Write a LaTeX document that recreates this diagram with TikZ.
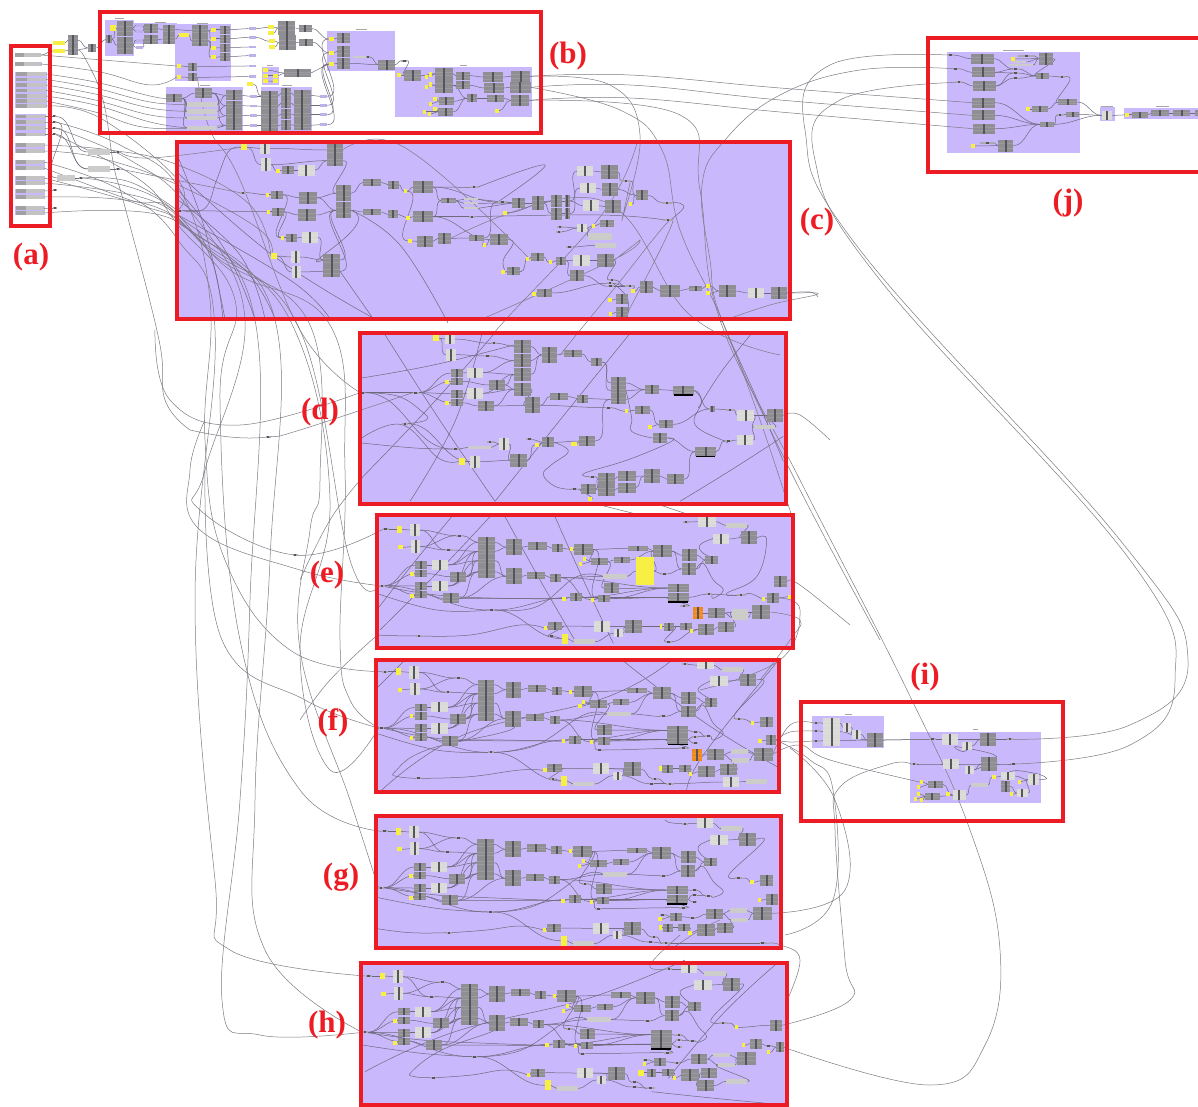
\documentclass[tikz,border=0pt]{standalone}
\usepackage{fontspec}
\setmainfont{Liberation Serif}
\usetikzlibrary{calc}
\definecolor{lav}{HTML}{C9B8FC}
\definecolor{gcol}{HTML}{8E8E93}
\definecolor{gbar}{HTML}{55555B}
\definecolor{lcol}{HTML}{DADAD7}
\definecolor{ycol}{HTML}{F8EF45}
\definecolor{ocol}{HTML}{F08A1D}
\definecolor{rcol}{HTML}{ED1C24}
\definecolor{wcol}{HTML}{6E6A7C}
\definecolor{lwcol}{HTML}{7C7A82}
\pgfdeclarelayer{panels}\pgfdeclarelayer{wires}\pgfdeclarelayer{frames}
\pgfsetlayers{panels,wires,main,frames}
\tikzset{
 compbase/.style={rectangle,inner sep=0pt,outer sep=0pt,draw=none},
 rowlines/.style={path picture={
   \draw[white!12!#1,line width=.25pt] ($(path picture bounding box.north west)!.33!(path picture bounding box.south west)$) -- ($(path picture bounding box.north east)!.33!(path picture bounding box.south east)$);
   \draw[white!12!#1,line width=.25pt] ($(path picture bounding box.north west)!.67!(path picture bounding box.south west)$) -- ($(path picture bounding box.north east)!.67!(path picture bounding box.south east)$);
   \fill[gbar] ([xshift=-1pt]path picture bounding box.north) rectangle ([xshift=1pt]path picture bounding box.south);}},
 gcomp/.style={compbase,fill=gcol,rowlines=gcol},
 lcomp/.style={compbase,fill=lcol,rowlines=lcol},
 ycomp/.style={compbase,fill=ycol},
 ocomp/.style={compbase,fill=ocol,rowlines=ocol},
 pillnode/.style={compbase,fill=gcol!75!white,path picture={\fill[gbar] ([xshift=-1.2pt]path picture bounding box.north) rectangle ([xshift=1.2pt]path picture bounding box.south);}},
 barnode/.style={compbase,fill=lcol!85!gray},
 paramnode/.style={compbase,fill=lav!85!gray},
 slidernode/.style={compbase,fill=lcol!70!gcol,path picture={\fill[gbar!55!white] (path picture bounding box.north west) rectangle ([xshift=-4pt]path picture bounding box.south);}},
 wire/.style={draw=wcol,line width=.5pt},
 lwire/.style={draw=lwcol,line width=.5pt},
 lab/.style={text=rcol,font=\bfseries\fontsize{31}{31}\selectfont,inner sep=0pt},
 frm/.style={draw=rcol,line width=4.2pt},
 zm/.style={x=.33333pt,y=-.33333pt}
}
\newcommand\cG[5]{\node[gcomp,minimum width=#4pt/3,minimum height=#5pt/3] (#1) at (#2,#3) {};}
\newcommand\cL[5]{\node[lcomp,minimum width=#4pt/3,minimum height=#5pt/3] (#1) at (#2,#3) {};}
\newcommand\cY[5]{\node[ycomp,minimum width=#4pt/3,minimum height=#5pt/3] (#1) at (#2,#3) {};}
\newcommand\cO[5]{\node[ocomp,minimum width=#4pt/3,minimum height=#5pt/3] (#1) at (#2,#3) {};}
\newcommand\cT[4]{\node[pillnode,minimum width=#4pt/3,minimum height=2pt] (#1) at (#2,#3) {};}
\newcommand\cB[5]{\node[barnode,minimum width=#4pt/3,minimum height=#5pt/3] (#1) at (#2,#3) {};}
\newcommand\cP[3]{\node[paramnode,minimum width=7.3pt,minimum height=2.7pt] (#1) at (#2,#3) {};}
\newcommand\cS[4]{\node[slidernode,minimum width=#4pt,minimum height=3.4pt] (#1) at (#2,#3) {};}
% wires and panels are collected and put on their layer once per scope (each layer call nests one box)
\newtoks\wtoks
\newtoks\ptoks
\newcommand\pnl[4]{\global\ptoks\expandafter{\the\ptoks\fill[lav] (#1,#2) rectangle (#3,#4);}}
\newcommand\wI[2]{\global\wtoks\expandafter{\the\wtoks\draw[wire] (#1.east) to[out=0,in=180] (#2.west);}}
\newcommand\wB[2]{\global\wtoks\expandafter{\the\wtoks\draw[wire] (#1.east) to[out=-20,in=200,looseness=1.6] (#2.west);}}
\newcommand\wP[1]{\global\wtoks\expandafter{\the\wtoks\draw[lwire] plot[smooth,tension=.7] coordinates {#1};}}
\newcommand\wD[1]{\global\wtoks\expandafter{\the\wtoks\draw[wire] plot[smooth,tension=.7] coordinates {#1};}}
\newcommand\flushw{\begin{pgfonlayer}{panels}\the\ptoks\end{pgfonlayer}\global\ptoks{}\begin{pgfonlayer}{wires}\the\wtoks\end{pgfonlayer}\global\wtoks{}}
\newcommand\blk[3]{\fill[black] (#1-#3/2,#2) rectangle (#1+#3/2,#2+5);}
% shared layout of sections e, f, g and h
\newcommand\coreblock{%
\cT{tb}{47}{58}{18}\cY{a}{88}{58}{16}{20}\cL{b}{135}{60}{30}{38}\cY{c}{92}{112}{14}{12}\cL{d}{137}{110}{28}{38}
\cT{t1}{268}{77}{18}\cT{t2}{236}{120}{18}\cT{t0}{36}{227}{16}\cT{t3}{365}{300}{16}
\cG{e1}{154}{165}{36}{22}\cG{e2}{154}{191}{36}{22}\cL{f}{210}{165}{50}{30}\cY{g}{126}{192}{10}{12}\cG{h}{265}{200}{48}{30}
\cG{i1}{154}{228}{36}{24}\cG{i2}{154}{254}{36}{22}\cL{j}{210}{228}{50}{32}\cY{k}{126}{258}{10}{12}\cG{l}{243}{265}{48}{30}
\cG{m1}{350}{97}{50}{30}\cG{m2}{350}{124}{50}{27}\cG{m3}{350}{152}{50}{30}\cG{m4}{350}{185}{50}{40}
\cG{n}{432}{112}{46}{48}\cG{o}{432}{199}{48}{48}
\cG{p}{502}{108}{55}{22}\cG{q}{563}{115}{32}{24}\cY{r}{604}{118}{10}{12}\cG{s}{640}{118}{55}{34}
\cG{t}{497}{196}{55}{22}\cG{u}{557}{203}{32}{24}
\cG{v}{803}{115}{60}{16}\cG{w}{877}{123}{55}{36}
\cY{z1}{643}{148}{10}{12}\cY{z2}{632}{162}{10}{12}\cG{x}{688}{155}{52}{22}\cG{y}{755}{150}{48}{18}
\cG{aa}{958}{136}{44}{36}\cG{ab}{957}{177}{44}{34}\cG{ac}{1025}{150}{38}{26}
\cY{y1}{582}{266}{10}{12}\cG{n1}{617}{262}{36}{24}\cY{y2}{667}{269}{10}{12}\cG{n2}{703}{266}{36}{22}
\cG{st1}{925}{234}{64}{26}\cG{st2}{925}{262}{64}{28}\blk{925}{274}{60}
\cY{y3}{527}{354}{10}{12}\cG{g1}{555}{348}{44}{24}\cL{g2}{695}{349}{48}{32}\cL{g3}{745}{370}{28}{24}\cG{g4}{790}{350}{50}{40}
\cY{y4}{584}{386}{18}{30}\cB{g5}{643}{395}{64}{14}
\wI{tb}{a}\wI{a}{b}\wI{c}{d}\wI{b}{t1}\wI{t1}{m1}\wI{d}{t2}\wI{t2}{m2}\wI{b}{t2}\wI{d}{t1}
\wI{t0}{e1}\wI{t0}{i1}\wI{t0}{e2}\wI{t0}{i2}\wI{t0}{t3}\wI{g}{e2}\wI{k}{i2}\wI{e1}{f}\wI{e2}{h}\wI{i1}{j}\wI{i2}{l}
\wI{f}{m1}\wI{f}{m2}\wI{f}{m3}\wI{h}{m3}\wI{h}{m4}\wI{j}{m2}\wI{j}{m3}\wI{j}{m4}\wI{l}{m4}\wI{l}{o}\wI{h}{m2}
\wI{m1}{n}\wI{m2}{n}\wI{m3}{o}\wI{m4}{o}\wI{n}{p}\wI{p}{q}\wI{q}{r}\wI{r}{s}\wI{o}{t}\wI{t}{u}
\wI{s}{v}\wI{v}{w}\wI{w}{aa}\wI{w}{ab}\wI{z1}{x}\wI{z2}{x}\wI{x}{y}\wI{y}{w}\wI{aa}{ac}\wI{ab}{ac}\wI{s}{x}
\wI{y1}{n1}\wI{y2}{n2}\wI{n1}{st1}\wI{n2}{st1}\wI{n2}{st2}\wI{n1}{st2}\wI{u}{st1}\wI{t3}{n1}\wI{l}{y1}
\wI{y3}{g1}\wI{g1}{g2}\wI{g2}{g4}\wI{g3}{g4}\wI{g5}{g3}\wI{y4}{g5}\wI{t3}{y4}\wI{g2}{g4}
\wI{u}{y2}\wI{s}{n2}
}
\begin{document}
\begin{tikzpicture}[x=1pt,y=-1pt]
\useasboundingbox (0,0) rectangle (1198,1107);
% section backgrounds
\pnl{177}{142}{790}{319}\pnl{360}{333}{786}{504}\pnl{377}{515}{793}{648}\pnl{376}{660}{779}{792}\pnl{376}{816}{781}{948}\pnl{361}{963}{787}{1105}
% (a) input column
\pnl{15}{53}{41}{57}\pnl{15}{62}{42}{66}\pnl{15}{72}{47}{108}\pnl{15}{114}{46}{136}\pnl{15}{143}{45}{153}\pnl{15}{160}{45}{170}\pnl{15}{176}{45}{185}\pnl{15}{189}{45}{199}\pnl{15}{206}{45}{215}
\cS{r1}{28}{55}{26}\cS{r2}{28}{64}{26}
\cS{r3}{31}{74}{30}\cS{r4}{31}{79.5}{30}\cS{r5}{31}{85}{30}\cS{r6}{31}{90.5}{30}\cS{r7}{31}{96}{30}\cS{r8}{31}{101}{30}\cS{r9}{31}{106}{30}
\cS{r10}{30}{116.5}{29}\cS{r11}{30}{122}{29}\cS{r12}{30}{128}{29}\cS{r13}{30}{134.5}{29}
\cS{r14}{30}{145}{28}\cS{r15}{30}{151}{28}\cS{r16}{30}{162}{28}\cS{r17}{30}{168}{28}\cS{r18}{30}{178}{28}\cS{r19}{30}{183}{28}\cS{r20}{30}{191}{28}\cS{r21}{30}{197}{28}\cS{r22}{30}{208}{28}\cS{r23}{30}{213}{28}
\cT{ta1}{54}{116.5}{9}\cT{ta2}{54}{122}{9}\cT{ta3}{54}{128}{9}\cT{ta4}{54}{134.5}{9}\cT{ta5}{55}{190.5}{12}\cT{ta6}{55}{208}{12}
\cB{la1}{99}{152}{66}{18}\cT{da1}{118}{152}{12}\cB{la2}{99}{169}{66}{18}\cT{da2}{118}{169}{12}\cB{la3}{66}{178}{54}{18}\cT{da3}{81}{178}{12}
\cY{ty1}{59}{43}{36}{10}\cY{ty2}{59}{51}{36}{10}\cG{tg1}{73}{40}{28}{30}\cG{tg2}{73}{50}{28}{30}\cG{tg3}{92}{48}{26}{22}
\wI{r1}{ty2}\wI{ty1}{tg1}\wI{ty2}{tg2}\wI{tg1}{tg3}\wI{tg2}{tg3}\wI{ta1}{la1}\wI{la1}{da1}\wI{la2}{da2}\wI{la3}{da3}\wI{ta3}{la2}\wI{ta2}{la3}\wI{ta4}{la2}
\flushw
% (b)
\begin{scope}[shift={(95,8)},zm,name prefix=b-]
\pnl{30}{35}{117}{143}\pnl{117}{45}{245}{108}\pnl{240}{48}{408}{220}\pnl{213}{236}{443}{370}\pnl{500}{177}{553}{232}\pnl{497}{236}{652}{370}
\cY{y0}{55}{60}{18}{16}\cG{g1}{42}{94}{18}{24}\cG{s1}{89}{62}{48}{44}\cG{s2}{89}{112}{48}{52}
\cP{pa}{133}{52}\cP{pb}{133}{70}\cP{pc}{133}{97}\cP{pd}{133}{118}
\cG{c2a}{168}{62}{42}{28}\cG{c2b}{168}{95}{42}{26}\cG{c2c}{222}{65}{38}{30}\cG{c2d}{222}{93}{38}{28}
\cG{b3a}{315}{68}{50}{32}\cG{b3b}{315}{98}{50}{30}\cY{yb}{267}{81}{28}{10}
\cY{y1}{356}{65}{14}{12}\cY{y2}{356}{92}{14}{12}\cY{y3}{356}{120}{14}{12}\cY{y4}{356}{148}{14}{12}
\cG{c1}{390}{65}{28}{24}\cG{c2}{390}{92}{28}{24}\cG{c3}{390}{119}{28}{24}\cG{c4}{390}{146}{28}{24}
\cY{y5}{252}{174}{14}{12}\cG{c5}{293}{176}{28}{24}\cY{y6}{252}{207}{14}{12}\cG{c6}{293}{208}{28}{24}
\cP{q1}{472}{62}\cP{q2}{472}{88}\cP{q3}{472}{117}\cP{q4}{472}{143}\cP{q5}{472}{174}\cP{q6}{472}{206}
\cY{y7}{528}{58}{18}{12}\cY{y8}{528}{74}{18}{12}\cY{y9}{532}{100}{18}{12}\cY{y10}{532}{116}{18}{12}
\cG{h1}{575}{60}{52}{44}\cG{h2}{577}{104}{52}{44}\cG{h3}{631}{62}{40}{22}\cG{h4}{633}{103}{40}{22}
\cY{v1}{512}{187}{16}{12}\cY{v2}{512}{203}{16}{12}\cY{v3}{512}{219}{16}{12}\cY{v4}{541}{203}{16}{12}\cY{v5}{541}{220}{16}{12}\cG{vb}{608}{195}{80}{22}\cY{v6}{466}{228}{18}{12}
\cG{p1}{238}{271}{48}{24}\cG{p2}{325}{255}{52}{32}\cB{bar1}{322}{289}{90}{14}\cB{bar2}{322}{310}{90}{14}\cB{bar3}{322}{330}{90}{14}\cB{bar4}{322}{360}{90}{14}
\cG{k1}{417}{262}{50}{30}\cG{k2}{417}{293}{50}{30}\cG{k3}{417}{323}{50}{30}\cG{k4}{417}{352}{50}{28}
\cP{w1}{475}{265}\cP{w2}{475}{294}\cP{w3}{475}{322}\cP{w4}{475}{353}
\cG{m1}{524}{265}{50}{30}\cG{m2}{524}{295}{50}{30}\cG{m3}{524}{323}{50}{30}\cG{m4}{524}{353}{50}{30}
\cG{o1}{574}{255}{30}{30}\cG{o2}{574}{285}{30}{32}\cG{o3}{574}{318}{30}{32}\cG{o4}{574}{350}{30}{30}
\cG{u1}{622}{262}{50}{30}\cG{u2}{622}{292}{50}{30}\cG{u3}{622}{320}{50}{30}\cG{u4}{622}{352}{50}{30}
\cP{x1}{686}{265}\cP{x2}{686}{292}\cP{x3}{686}{320}\cP{x4}{686}{350}
\wI{y0}{s1}\wI{g1}{s1}\wI{g1}{s2}\wI{s1}{pa}\wI{s1}{pb}\wI{s2}{pc}\wI{s2}{pd}\wI{pa}{c2a}\wI{pb}{c2a}\wI{pc}{c2b}\wI{pd}{c2b}\wI{c2a}{c2c}\wI{c2b}{c2d}\wI{c2c}{b3a}\wI{c2d}{yb}\wI{yb}{b3b}
\wI{b3a}{y1}\wI{b3a}{y2}\wI{b3b}{y3}\wI{b3b}{y4}\wI{y1}{c1}\wI{y2}{c2}\wI{y3}{c3}\wI{y4}{c4}\wI{y5}{c5}\wI{y6}{c6}
\wI{c1}{q1}\wI{c2}{q2}\wI{c3}{q3}\wI{c4}{q4}\wI{c5}{q5}\wI{c6}{q6}\wI{q1}{y7}\wI{q2}{y9}\wI{y7}{h1}\wI{y8}{h1}\wI{y9}{h2}\wI{y10}{h2}\wI{h1}{h3}\wI{h2}{h4}
\wI{v1}{vb}\wI{v4}{vb}\wI{v2}{v4}\wI{v3}{v5}\wI{v6}{m1}
\wI{p1}{p2}\wI{p2}{k1}\wI{p2}{k2}\wI{p2}{k3}\wI{p2}{k4}\wI{bar1}{k1}\wI{bar2}{k2}\wI{bar3}{k3}\wI{bar4}{k4}\wI{p1}{bar1}\wI{p1}{bar2}\wI{p1}{bar3}\wI{p1}{bar4}
\wI{k1}{w1}\wI{k2}{w2}\wI{k3}{w3}\wI{k4}{w4}\wI{w1}{m1}\wI{w2}{m2}\wI{w3}{m3}\wI{w4}{m4}\wI{m1}{o1}\wI{m2}{o2}\wI{m3}{o3}\wI{m4}{o4}\wI{o1}{u1}\wI{o2}{u2}\wI{o3}{u3}\wI{o4}{u4}\wI{u1}{x1}\wI{u2}{x2}\wI{u3}{x3}\wI{u4}{x4}
\fill[gray!70] (60,31) rectangle (88,34);\fill[gray!70] (180,41) rectangle (212,44);\fill[gray!70] (305,44) rectangle (340,47);\fill[gray!70] (515,172) rectangle (535,175);\fill[gray!70] (315,232) rectangle (345,235);\fill[gray!70] (560,232) rectangle (590,235);
\flushw
\end{scope}
\begin{scope}[shift={(320,8)},zm,name prefix=b-]
\pnl{22}{70}{226}{188}\pnl{226}{177}{635}{328}
\cY{a1}{34}{93}{16}{12}\cG{a2}{70}{90}{38}{32}\cY{a3}{34}{134}{16}{12}\cG{a4}{70}{130}{38}{32}\cY{a5}{34}{168}{16}{12}\cG{a6}{70}{166}{38}{32}
\cB{a7}{125}{147}{50}{6}\cT{a8}{144}{147}{14}\cG{a9}{200}{170}{50}{30}\cT{a10}{253}{158}{18}
\cY{e1}{236}{202}{12}{12}\cG{e2}{278}{203}{50}{32}\cY{e3}{332}{200}{10}{14}\cY{e4}{320}{207}{10}{12}\cY{e5}{332}{230}{10}{14}\cY{e6}{320}{236}{10}{12}
\cG{e7}{372}{197}{52}{32}\cG{e8}{372}{232}{52}{44}\cG{e9}{429}{203}{42}{24}\cG{e10}{429}{232}{42}{24}
\cG{e11}{520}{207}{60}{30}\cG{e12}{522}{240}{60}{30}\cG{e13}{602}{205}{56}{32}\cG{e14}{601}{238}{62}{34}
\cY{f1}{345}{273}{10}{12}\cY{f2}{331}{287}{10}{12}\cG{f3}{379}{280}{46}{24}\cY{f4}{345}{304}{10}{12}\cY{f5}{313}{311}{10}{12}\cY{f6}{328}{318}{10}{12}\cG{f7}{377}{311}{46}{24}
\cG{f8}{456}{271}{30}{24}\cG{f9}{527}{271}{50}{20}\cY{f10}{531}{309}{10}{12}\cG{f11}{599}{277}{54}{34}
\wI{a1}{a2}\wI{a3}{a4}\wI{a5}{a6}\wI{a7}{a9}\wI{a6}{a9}\wI{a9}{a10}\wI{e1}{e2}\wI{a10}{e2}\wI{e2}{e7}\wI{e3}{e7}\wI{e4}{e7}\wI{e5}{e8}\wI{e6}{e8}\wI{e7}{e9}\wI{e8}{e10}\wI{e9}{e11}\wI{e10}{e12}\wI{e11}{e13}\wI{e12}{e14}
\wI{f1}{f3}\wI{f2}{f3}\wI{f4}{f7}\wI{f5}{f7}\wI{f6}{f7}\wI{f3}{f8}\wI{f7}{f8}\wI{e8}{f8}\wI{f8}{f9}\wI{f9}{f11}\wI{f10}{f11}
\fill[gray!70] (108,64) rectangle (140,67);\fill[gray!70] (420,171) rectangle (440,174);
\flushw
\end{scope}
\wI{b-x1}{b-a1}\wI{b-x2}{b-a3}\wI{b-x3}{b-a5}\wI{b-x4}{b-a5}\wI{b-h3}{b-a1}\wI{b-h4}{b-a3}
\wD{(b-vb.east)(b-a5.west)}
\wI{tg3}{b-g1}
\flushw
% (c)
\begin{scope}[shift={(175,140)},zm,name prefix=c-]
\cY{a}{207}{22}{18}{18}\cL{b}{270}{25}{30}{34}\cL{c}{273}{74}{30}{38}\cY{d}{309}{92}{10}{12}\cG{e}{339}{91}{34}{24}\cL{f}{394}{91}{50}{32}\cG{g1}{480}{30}{50}{40}\cG{g2}{480}{62}{50}{34}
\cT{t1}{204}{158}{18}\cY{h}{277}{164}{10}{12}\cG{i}{306}{164}{34}{24}\cG{j}{399}{173}{54}{36}\cT{t0}{15}{212}{14}\cY{k}{280}{215}{10}{12}\cG{l}{309}{215}{34}{24}\cG{m}{397}{225}{54}{36}
\cG{n1}{506}{160}{46}{48}\cG{n2}{506}{211}{46}{48}\cG{o}{592}{127}{54}{20}\cG{p}{655}{134}{32}{24}\cY{q}{692}{154}{10}{12}\cG{r}{744}{141}{60}{34}
\cG{s}{592}{216}{54}{20}\cG{tt}{654}{223}{32}{24}\cY{u}{699}{233}{10}{12}\cG{v}{744}{230}{60}{34}
\cY{w}{322}{293}{10}{12}\cG{x}{350}{293}{34}{24}\cL{y}{404}{292}{48}{32}\cY{z}{297}{348}{18}{18}\cL{aa}{362}{351}{28}{36}\cL{ab}{364}{396}{28}{36}\cG{ac}{470}{360}{50}{34}\cG{ad}{470}{394}{50}{34}
\cY{ae}{705}{303}{10}{12}\cG{af}{750}{304}{48}{34}\cG{ag}{808}{295}{38}{32}\cG{ah}{904}{294}{44}{16}\cY{ai}{928}{315}{10}{12}\cG{aj}{820}{182}{44}{14}
\cB{b1}{888}{178}{42}{6}\cB{b2}{888}{190}{42}{6}\cB{b3}{888}{205}{42}{6}\cT{t2}{897}{142}{20}\cT{t3}{891}{230}{20}
\wI{a}{b}\wI{a}{c}\wI{b}{g1}\wI{c}{g2}\wI{d}{e}\wI{e}{f}\wI{f}{g2}\wI{c}{d}\wI{t1}{h}\wI{h}{i}\wI{i}{j}\wI{t0}{k}\wI{k}{l}\wI{l}{m}\wI{j}{n1}\wI{m}{n2}\wI{j}{n2}\wI{g2}{n1}
\wI{n1}{o}\wI{o}{p}\wI{p}{q}\wI{q}{r}\wI{n2}{s}\wI{s}{tt}\wI{tt}{u}\wI{u}{v}\wI{w}{x}\wI{x}{y}\wI{y}{ac}\wI{z}{aa}\wI{z}{ab}\wI{aa}{ac}\wI{ab}{ad}\wI{ac}{n2}\wI{ad}{n2}\wI{i}{w}\wI{l}{w}
\wI{q}{ae}\wI{ae}{af}\wI{af}{ag}\wI{ag}{ah}\wI{r}{t2}\wI{v}{t3}\wI{r}{aj}\wI{v}{aj}\wI{aj}{b1}\wI{aj}{b2}\wI{aj}{b3}
\wD{(t0.east)(90,205)(125,120)(160,35)(a.west)}
\wB{n2}{ac}
\flushw
\end{scope}
\begin{scope}[shift={(480,140)},zm,name prefix=c-]
\cG{ca}{116}{189}{38}{32}\cG{cb}{174}{189}{34}{44}\cG{cc}{229}{183}{32}{36}\cG{cd}{229}{221}{32}{36}\cG{ce}{262}{183}{16}{34}\cG{cf}{262}{221}{16}{34}\cY{cy}{75}{218}{10}{12}\cT{ct}{67}{186}{28}
\cL{da}{316}{93}{48}{32}\cG{db}{388}{96}{50}{40}\cL{dc}{323}{144}{48}{32}\cG{dd}{390}{148}{50}{40}\cL{de}{332}{197}{48}{32}\cG{df}{400}{200}{48}{40}
\cT{dt}{438}{123}{26}\cG{dg}{486}{166}{38}{30}\cY{dy}{451}{193}{10}{12}\cT{du}{561}{188}{32}\cT{dv}{564}{239}{28}
\cL{ea}{307}{264}{30}{26}\cY{ey}{340}{258}{10}{12}\cG{eb}{380}{251}{42}{22}\cB{ec}{360}{289}{70}{20}\cB{ed}{376}{316}{62}{14}\cT{e1}{240}{261}{18}\cT{e2}{237}{275}{18}\cT{e3}{268}{321}{18}
\cG{fa}{57}{299}{54}{34}\cY{fy}{13}{316}{10}{12}\cG{fb}{100}{394}{38}{24}\cY{fz}{69}{397}{10}{12}
\cY{g1}{143}{356}{10}{12}\cG{g2}{173}{351}{38}{24}\cY{g3}{211}{367}{10}{12}\cG{g4}{243}{362}{30}{24}\cL{g5}{304}{361}{50}{32}\cG{g6}{377}{361}{50}{40}\cG{g7}{291}{407}{42}{34}
\cY{h1}{162}{463}{10}{12}\cG{h2}{194}{459}{44}{24}\cT{h3}{396}{420}{18}\cT{h4}{390}{430}{18}\cT{h5}{392}{439}{18}\cT{h6}{450}{439}{28}\cY{h7}{459}{454}{10}{12}\cG{h8}{499}{441}{38}{34}\cG{h9}{570}{452}{62}{36}\cG{h10}{647}{446}{40}{14}
\cY{i1}{684}{438}{12}{12}\cY{i2}{684}{460}{12}{12}\cG{i3}{742}{453}{52}{36}\cL{i4}{827}{459}{48}{32}\cG{i5}{897}{459}{48}{38}\cY{i6}{390}{481}{10}{12}\cG{i7}{425}{477}{36}{30}\cY{i8}{392}{521}{10}{12}\cG{i9}{425}{517}{36}{30}
\wI{ct}{ca}\wI{ca}{cb}\wI{cb}{cc}\wI{cb}{cd}\wI{cc}{ce}\wI{cd}{cf}\wI{ce}{de}\wI{cf}{dc}\wI{ce}{da}\wI{cy}{cc}\wI{da}{db}\wI{dc}{dd}\wI{de}{df}\wI{db}{dt}\wI{dt}{dg}\wI{dy}{dg}\wI{dg}{du}\wI{dd}{dg}\wI{e1}{ea}\wI{ea}{ey}\wI{ey}{eb}\wI{e2}{ea}\wI{e3}{ed}\wI{ea}{ec}
\wD{(du.east)(600,190)(610,205)(575,238)(dv.east)}
\wD{(fb.east)(130,390)(g1.west)}
\wI{g1}{g2}\wI{g2}{g3}\wI{g3}{g4}\wI{g4}{g5}\wI{g5}{g6}\wI{g4}{g7}\wI{fz}{fb}\wI{fy}{fa}\wI{h1}{h2}\wI{h2}{h4}\wI{h3}{h6}\wI{h4}{h6}\wI{h5}{h6}\wI{h6}{h7}\wI{h7}{h8}\wI{h8}{h9}\wI{h9}{h10}\wI{h10}{i1}\wI{i1}{i3}\wI{i2}{i3}\wI{i3}{i4}\wI{i4}{i5}\wI{i6}{i7}\wI{i8}{i9}\wI{g6}{h3}\wI{g7}{h5}
\wD{(fa.east)(100,310)(70,360)(75,397)(fz.west)}
\wD{(h4.east)(440,470)(445,515)(i9.east)}
\flushw
\end{scope}
\wI{c-r}{c-ct}\wI{c-v}{c-fa}\wI{c-ah}{c-ct}
\wD{(c-ah.east)(c-fy.west)}
\wD{(c-b1.east)(c-ca.west)}\wD{(c-b2.east)(c-ca.west)}\wD{(c-b3.east)(c-ca.west)}
\wD{(c-t3.east)(600,215)(c-dv.west)}
\wD{(c-t2.east)(545,165)(c-ct.west)}
\wD{(c-ad.east)(372,317)}\wD{(c-n2.east)(400,245)(448,323)}
\wD{(178,157)(205,230)(225,319)}\wD{(178,190)(225,250)(255,319)}\wD{(178,200)(240,255)(265,319)}\wD{(178,223)(245,270)(275,319)}\wD{(198,230)(215,270)(223,319)}\wD{(178,173)(275,257)(375,319)}\wD{(178,215)(290,280)(330,319)}
\flushw
% (d)
\begin{scope}[shift={(355,328)},zm,name prefix=d-]
\cY{a}{242}{30}{18}{18}\cL{b}{285}{33}{30}{32}\cL{c}{287}{80}{30}{36}\cT{t1}{417}{46}{18}\cT{t2}{398}{84}{18}\cT{t0}{22}{194}{14}\cT{t3}{182}{194}{18}\cT{t4}{150}{287}{18}
\cG{e1}{305}{135}{36}{22}\cG{e2}{305}{160}{36}{22}\cY{y1}{276}{161}{10}{12}\cL{f}{360}{134}{50}{30}\cG{g}{427}{171}{48}{30}
\cG{h1}{305}{197}{36}{24}\cG{h2}{305}{224}{36}{22}\cY{y2}{276}{226}{10}{12}\cL{j}{360}{196}{50}{32}\cG{k}{393}{234}{48}{30}
\cG{m1}{502}{55}{50}{40}\cG{m2}{502}{98}{50}{40}\cG{m3}{502}{139}{50}{40}\cG{m4}{502}{184}{50}{40}\cG{n}{583}{81}{46}{48}\cG{p}{653}{77}{54}{20}\cG{q}{725}{102}{34}{24}
\cG{o}{533}{232}{46}{48}\cG{r}{613}{205}{54}{20}\cG{s}{683}{212}{32}{24}\cG{v1}{790}{165}{46}{38}\cG{v2}{790}{188}{46}{28}\cG{v3}{790}{214}{46}{30}\cG{w}{890}{185}{42}{26}\cG{x}{985}{187}{62}{28}\blk{985}{199}{58}
\cT{t5}{760}{239}{16}\cY{y3}{815}{250}{10}{12}\cG{aa}{862}{246}{44}{24}\cY{y4}{885}{296}{10}{12}\cG{ab}{933}{289}{44}{24}\cG{ac}{915}{330}{44}{30}\cG{ad}{1072}{243}{16}{20}\cT{t6}{1125}{245}{22}\cL{ae}{1172}{262}{50}{32}\cG{af}{1260}{262}{50}{40}\cB{ag}{1228}{297}{64}{13}\cL{ah}{1170}{336}{50}{32}\cT{t7}{1120}{338}{22}\cG{ai}{1052}{371}{62}{28}\blk{1052}{383}{58}
\cL{ba}{446}{348}{30}{36}\cB{bb}{374}{358}{70}{10}\cT{t8}{302}{363}{18}\cT{t9}{405}{341}{18}\cY{y5}{320}{400}{18}{20}\cL{bc}{361}{401}{30}{36}\cG{bd}{491}{397}{50}{40}\cT{t10}{523}{334}{18}\cY{y6}{546}{350}{10}{12}\cG{be}{579}{343}{36}{30}\cY{y7}{657}{347}{18}{12}\cG{bf}{696}{339}{46}{32}
\cG{ca}{755}{452}{50}{34}\cG{cb}{755}{486}{50}{34}\cG{cc}{816}{445}{52}{30}\cG{cd}{816}{479}{52}{30}\cG{ce}{891}{444}{50}{40}\cG{cf}{961}{454}{50}{30}\cG{cg}{700}{483}{46}{30}\cY{y8}{705}{512}{10}{12}\cT{t11}{712}{446}{18}\cT{t12}{658}{484}{18}
\wI{a}{b}\wI{a}{c}\wI{b}{t1}\wI{c}{t2}\wI{t1}{m1}\wI{t2}{m2}\wI{y1}{e2}\wI{y2}{h2}\wI{t0}{t3}\wI{t3}{h1}\wI{t3}{e1}\wI{t3}{h2}\wI{t3}{e2}\wI{e1}{f}\wI{e2}{g}\wI{h1}{j}\wI{h2}{k}\wI{f}{m2}\wI{f}{m3}\wI{g}{m3}\wI{g}{m4}\wI{j}{m3}\wI{j}{m4}\wI{k}{m4}\wI{k}{o}
\wI{m1}{n}\wI{m2}{n}\wI{m3}{n}\wI{n}{p}\wI{p}{q}\wI{m4}{o}\wI{o}{r}\wI{r}{s}\wI{s}{v3}\wI{q}{v1}\wI{q}{v2}\wI{v1}{w}\wI{v2}{w}\wI{v3}{w}\wI{w}{x}\wI{t5}{y3}\wI{y3}{aa}\wI{aa}{ab}\wI{y4}{ab}\wI{ab}{ad}\wI{x}{ad}\wI{ad}{t6}\wI{t6}{ae}\wI{ae}{af}\wI{ae}{ag}\wI{ag}{af}\wI{t7}{ah}\wI{ah}{ag}\wI{ac}{ai}\wI{ai}{t7}\wI{o}{t5}
\wI{t4}{bc}\wI{t8}{bb}\wI{bb}{ba}\wI{t9}{ba}\wI{y5}{bc}\wI{bc}{bd}\wI{ba}{bd}\wI{bd}{y6}\wI{y6}{be}\wI{t10}{be}\wI{be}{bf}\wI{y7}{bf}\wI{bf}{v3}\wI{t0}{t8}
\wI{t12}{cg}\wI{y8}{cg}\wI{cg}{ca}\wI{cg}{cb}\wI{t11}{ca}\wI{ca}{cc}\wI{cb}{cd}\wI{cc}{ce}\wI{cd}{ce}\wI{ce}{cf}\wI{cf}{ai}
\wD{(ac.east)(950,340)(820,395)(690,435)(t11.west)}
\wD{(be.east)(640,370)(590,410)(565,440)(600,475)(t12.west)}
\wD{(v2.east)(830,270)(830,310)(ac.west)}
\wD{(t0.east)(130,205)(200,250)(215,275)(t4.east)}
\wD{(x.east)(1040,220)(1020,290)(1110,340)(t7.west)}
\wD{(20,150)(240,110)(480,50)}\wD{(90,20)(250,270)(420,520)}\wD{(415,20)(230,230)(20,450)}\wD{(830,10)(620,270)(420,520)}\wD{(1115,15)(1200,200)(1285,400)}\wD{(1285,325)(1130,425)(975,520)}\wD{(1195,10)(1100,130)(1030,240)}\wD{(20,345)(180,360)(t8.west)}\wD{(20,330)(140,290)(250,390)(y5.west)}\wD{(165,520)(300,280)(380,20)}
\flushw
\end{scope}
% (e)
\begin{scope}[shift={(370,510)},zm,name prefix=e-]
\coreblock
\cY{ya}{825}{183}{55}{82}\cG{ea}{725}{235}{44}{30}\cB{eb}{735}{199}{72}{16}
\cL{ec}{1010}{35}{55}{34}\cB{ed}{1100}{46}{64}{14}\cL{ee}{1053}{87}{50}{32}\cG{ef}{1137}{83}{50}{38}\cO{eg}{985}{309}{30}{34}\cG{eh}{1039}{309}{50}{32}\cG{ei}{1173}{306}{56}{40}\cB{ej}{1110}{306}{50}{16}\cB{ek}{1110}{322}{50}{16}
\cG{el}{1231}{215}{40}{34}\cG{em}{1208}{264}{36}{30}\cY{en}{1180}{266}{10}{12}\cY{eo}{1258}{260}{8}{12}\cG{ep}{897}{350}{32}{24}\cY{eq}{873}{350}{8}{14}\cG{er}{947}{350}{36}{20}\cY{es}{964}{364}{10}{12}\cG{et}{1008}{358}{50}{34}\cG{eu}{1068}{351}{50}{32}
\cT{p1}{948}{36}{18}\cT{p2}{883}{192}{18}\cT{p3}{1017}{253}{18}\cT{p4}{1113}{256}{22}\cT{p5}{942}{288}{24}\cT{p6}{896}{395}{18}\cT{p7}{545}{379}{16}\cT{p8}{147}{378}{16}
\wI{p1}{ec}\wI{ec}{ed}\wI{ee}{ef}\wI{ed}{ef}\wI{eg}{eh}\wI{eh}{ej}\wI{eh}{ek}\wI{ej}{ei}\wI{ek}{ei}\wI{en}{em}\wI{em}{eo}\wI{eq}{ep}\wI{ep}{er}\wI{er}{es}\wI{es}{et}\wI{et}{eu}\wI{eu}{ej}\wI{ea}{st1}\wI{x}{ea}\wI{eb}{ya}\wI{u}{eb}\wI{ya}{w}\wI{ya}{p2}\wI{p2}{ab}\wI{st2}{p3}\wI{p3}{p4}\wI{p5}{st2}\wI{g1}{p7}\wI{p7}{y4}\wI{p6}{et}\wI{ep}{p6}\wI{g4}{ep}
\wD{(ab.east)(1000,160)(1030,210)(1060,240)(1030,265)(p3.east)}
\wD{(ac.east)(1000,130)(990,105)(1030,85)(ee.west)}
\wD{(p8.east)(300,375)(450,345)(y3.west)}
\wD{(15,375)(70,377)(p8.west)}
\wD{(ef.east)(1190,90)(1160,200)(1070,250)(p4.west)}
\wD{(p4.east)(1140,250)(en.west)}
\wD{(245,20)(130,160)(20,300)}\wD{(360,20)(200,190)(30,360)}\wD{(405,20)(510,210)(620,400)}\wD{(555,20)(640,210)(730,400)}\wD{(20,225)(200,255)(400,265)(y1.west)}\wD{(20,250)(200,300)(t3.west)}\wD{(t3.east)(500,290)(620,200)(eb.west)}
\flushw
\end{scope}
% (f)
\begin{scope}[shift={(369.33,652.33)},zm,name prefix=f-]
\coreblock
\flushw
\end{scope}
\begin{scope}[shift={(370,655)},zm,name prefix=f-]
\cL{ec}{1007}{31}{50}{24}\cB{ed}{1087}{44}{62}{14}\cL{ee}{1047}{78}{54}{30}\cG{ef}{1134}{75}{50}{38}\cG{ea}{703}{225}{44}{30}\cB{eb}{747}{177}{72}{14}
\cO{eg}{982}{300}{30}{34}\cG{eh}{1036}{299}{50}{32}\cB{ej}{1108}{290}{50}{15}\cB{ek}{1112}{316}{50}{15}\cG{ei}{1180}{298}{56}{40}\cG{el}{1190}{201}{38}{32}\cY{en}{1148}{203}{10}{12}\cG{em}{1203}{255}{30}{30}\cY{eo}{1170}{258}{10}{12}
\cG{ep}{893}{341}{32}{24}\cY{eq}{872}{341}{8}{14}\cG{er}{945}{341}{36}{20}\cY{es}{962}{356}{10}{12}\cG{et}{1010}{350}{52}{34}\cG{eu}{1075}{343}{50}{32}\cL{ev}{1083}{381}{50}{32}\cB{ew}{1160}{379}{64}{14}
\cT{p1}{945}{28}{18}\cT{p2}{880}{184}{18}\cT{p3}{1015}{244}{18}\cT{p4}{1107}{192}{22}\cT{p5}{940}{280}{24}\cT{p6}{900}{386}{24}\cT{p7}{549}{373}{16}\cT{p8}{146}{370}{16}\cT{p9}{688}{285}{16}\cT{p10}{855}{371}{16}\cT{p11}{845}{386}{16}\cT{d1}{977}{230}{16}\cT{d2}{975}{245}{16}\cT{d3}{977}{265}{16}
\wI{p1}{ec}\wI{ec}{ed}\wI{ee}{ef}\wI{ed}{ef}\wI{eg}{eh}\wI{eh}{ej}\wI{eh}{ek}\wI{ej}{ei}\wI{ek}{ei}\wI{en}{el}\wI{eo}{em}\wI{eq}{ep}\wI{ep}{er}\wI{er}{es}\wI{es}{et}\wI{et}{eu}\wI{eu}{ek}\wI{ea}{st1}\wI{x}{ea}\wI{eb}{w}\wI{u}{eb}\wI{eb}{p2}\wI{p2}{ab}\wI{st1}{d1}\wI{st2}{d2}\wI{st2}{d3}\wI{d1}{p3}\wI{d2}{p3}\wI{p5}{st2}\wI{g1}{p7}\wI{p7}{y4}\wI{p9}{p5}\wI{y2}{p9}\wI{p10}{p6}\wI{p11}{p6}\wI{g4}{p10}\wI{g3}{p11}\wI{ev}{ew}\wI{p6}{ev}
\wD{(ab.east)(1000,150)(1030,205)(1060,235)(1030,255)(p3.east)}
\wD{(ac.east)(1000,120)(985,100)(1020,78)(ee.west)}
\wD{(p8.west)(85,365)(75,350)(170,285)(420,225)(o.west)}
\wD{(p8.east)(300,365)(450,345)(y3.west)}
\wD{(ef.east)(1180,85)(1100,170)(p4.west)}
\wD{(p4.east)(1130,195)(en.west)}
\wD{(1230,10)(1000,300)(950,410)}\wD{(900,20)(700,130)(280,240)(30,410)}\wD{(750,10)(1000,200)(1230,340)}\wD{(100,20)(50,70)(20,100)}\wD{(20,215)(200,250)(400,255)(y1.west)}\wD{(20,235)(200,285)(t3.west)}\wD{(t3.east)(500,270)(640,180)(eb.west)}
\flushw
\end{scope}
% (g)
\begin{scope}[shift={(369,812)},zm,name prefix=g-]
\coreblock
\flushw
\end{scope}
\begin{scope}[shift={(370,810)},zm,name prefix=g-]
\cL{ec}{1005}{40}{50}{30}\cB{ed}{1085}{56}{64}{14}\cL{ee}{1046}{90}{54}{32}\cG{ef}{1132}{88}{50}{38}\cG{ea}{702}{237}{46}{30}\cB{eb}{735}{193}{72}{16}
\cG{el}{1190}{212}{38}{34}\cY{en}{1146}{217}{10}{12}\cG{em}{1205}{268}{36}{32}\cY{eo}{1168}{271}{10}{12}
\cG{fa}{918}{320}{38}{24}\cY{fb}{870}{328}{12}{12}\cY{eq}{871}{353}{8}{14}\cG{ep}{893}{353}{30}{24}\cG{er}{942}{353}{36}{20}\cY{es}{960}{369}{10}{12}\cG{et}{1008}{360}{52}{34}\cG{eu}{1065}{354}{50}{32}
\cG{eh}{1034}{312}{50}{32}\cB{ej}{1105}{301}{50}{14}\cB{ek}{1108}{330}{50}{14}\cG{ei}{1177}{310}{56}{40}
\cT{p1}{945}{41}{18}\cT{p2}{880}{197}{18}\cT{p3}{1015}{257}{18}\cT{p4}{1106}{205}{22}\cT{p5}{940}{293}{24}\cT{p6}{888}{400}{24}\cT{p7}{1178}{400}{18}\cT{p8}{237}{368}{16}\cT{p9}{685}{296}{16}\cT{p10}{852}{381}{16}\cT{p11}{842}{396}{16}\cT{p12}{645}{221}{16}\cT{p13}{878}{314}{18}\cT{p14}{968}{323}{18}\cT{d1}{973}{241}{16}\cT{d2}{973}{256}{16}\cT{d3}{973}{275}{16}
\wI{p1}{ec}\wI{ec}{ed}\wI{ee}{ef}\wI{ed}{ef}\wI{eh}{ej}\wI{eh}{ek}\wI{ej}{ei}\wI{ek}{ei}\wI{en}{el}\wI{eo}{em}\wI{eq}{ep}\wI{ep}{er}\wI{er}{es}\wI{es}{et}\wI{et}{eu}\wI{eu}{ek}\wI{fb}{fa}\wI{p13}{fa}\wI{fa}{p14}\wI{p14}{eh}\wI{ea}{st1}\wI{p12}{ea}\wI{eb}{w}\wI{u}{eb}\wI{eb}{p2}\wI{p2}{ab}\wI{st1}{d1}\wI{st2}{d2}\wI{st2}{d3}\wI{d1}{p3}\wI{d2}{p3}\wI{p5}{st2}\wI{y2}{p9}\wI{p9}{p5}\wI{p10}{p6}\wI{p11}{p6}\wI{g4}{p10}\wI{g3}{p11}\wI{p6}{p7}\wI{s}{p12}
\wD{(ab.east)(1000,170)(1030,215)(1060,245)(1030,262)(p3.east)}
\wD{(ac.east)(1000,140)(985,110)(1020,90)(ee.west)}
\wD{(15,355)(120,368)(p8.west)}\wD{(p8.east)(350,360)(450,348)(y3.west)}
\wD{(ef.east)(1180,95)(1080,190)(p4.west)}\wD{(p4.east)(1130,205)(en.west)}
\wD{(20,230)(200,255)(400,265)(y1.west)}\wD{(20,262)(200,295)(t3.west)}\wD{(t3.east)(500,285)(640,195)(eb.west)}
\wD{(885,30)(900,38)(p1.west)}
\flushw
\end{scope}
% (h)
\begin{scope}[shift={(353,956.67)},zm,name prefix=h-]
\coreblock
\flushw
\end{scope}
\begin{scope}[shift={(355,955)},zm,name prefix=h-]
\cL{ec}{1002}{42}{50}{26}\cB{ed}{1080}{56}{64}{14}\cL{ee}{1043}{90}{54}{32}\cG{ef}{1130}{88}{50}{38}\cG{ea}{698}{237}{44}{30}\cB{eb}{732}{194}{72}{16}
\cG{el}{1262}{211}{36}{32}\cY{en}{1145}{217}{10}{12}\cG{em}{1202}{266}{36}{30}\cY{eo}{1165}{271}{10}{12}\cG{ez}{1275}{277}{24}{30}\cY{ey}{1241}{292}{10}{12}
\cG{fa}{915}{320}{38}{24}\cY{fb}{868}{328}{10}{12}\cY{eq}{858}{353}{16}{18}\cG{ep}{890}{353}{28}{24}\cG{er}{940}{353}{36}{20}\cY{es}{958}{369}{10}{12}\cG{et}{1005}{360}{52}{34}\cG{eu}{1062}{354}{50}{32}\cG{ev}{1052}{392}{50}{32}\cB{ew}{1145}{379}{64}{14}
\cG{eh}{1032}{312}{50}{32}\cB{ej}{1100}{300}{50}{14}\cB{ek}{1115}{330}{50}{14}\cG{ei}{1174}{310}{56}{40}
\cT{p1}{942}{42}{18}\cT{p2}{878}{197}{18}\cT{p3}{1012}{257}{18}\cT{p4}{1104}{205}{22}\cT{p5}{938}{293}{24}\cT{p6}{887}{400}{24}\cT{p8}{235}{368}{16}\cT{p9}{683}{296}{16}\cT{p10}{838}{382}{16}\cT{p11}{838}{396}{16}\cT{p12}{642}{221}{16}\cT{p13}{872}{314}{18}\cT{p14}{966}{323}{18}\cT{p15}{1240}{272}{16}\cT{d1}{972}{241}{16}\cT{d2}{972}{256}{16}\cT{d3}{972}{275}{16}
\wI{p1}{ec}\wI{ec}{ed}\wI{ee}{ef}\wI{ed}{ef}\wI{eh}{ej}\wI{eh}{ek}\wI{ej}{ei}\wI{ek}{ei}\wI{en}{el}\wI{eo}{em}\wI{em}{p15}\wI{p15}{ez}\wI{ey}{ez}\wI{eq}{ep}\wI{ep}{er}\wI{er}{es}\wI{es}{et}\wI{et}{eu}\wI{et}{ev}\wI{ev}{ew}\wI{ew}{ek}\wI{fb}{fa}\wI{p13}{fa}\wI{fa}{p14}\wI{p14}{eh}\wI{ea}{st1}\wI{p12}{ea}\wI{eb}{w}\wI{u}{eb}\wI{eb}{p2}\wI{p2}{ab}\wI{st1}{d1}\wI{st2}{d2}\wI{st2}{d3}\wI{d1}{p3}\wI{d2}{p3}\wI{p5}{st2}\wI{y2}{p9}\wI{p9}{p5}\wI{p10}{p6}\wI{p11}{p6}\wI{g4}{p10}\wI{g3}{p11}\wI{s}{p12}
\wD{(ab.east)(1000,170)(1030,215)(1055,245)(1030,262)(p3.east)}
\wD{(ac.east)(1000,140)(975,110)(1010,92)(ee.west)}
\wD{(p8.west)(180,365)(170,350)(260,285)(420,225)(o.west)}\wD{(p8.east)(350,360)(450,345)(y3.west)}
\wD{(ef.east)(1160,100)(1070,190)(p4.west)}\wD{(p4.east)(1130,205)(en.west)}
\wD{(1260,30)(1100,180)(940,370)}\wD{(990,15)(700,130)(300,230)(30,350)}\wD{(890,410)(1080,430)(1290,450)}
\wD{(20,230)(200,255)(400,265)(y1.west)}\wD{(22,270)(200,295)(t3.west)}\wD{(t3.east)(500,285)(640,195)(eb.west)}
\flushw
\end{scope}
% (i)
\begin{scope}[shift={(790,690)},zm,name prefix=i-]
\pnl{67}{78}{283}{173}\pnl{360}{125}{752}{340}
\cL{a1}{125}{100}{50}{32}\cL{a2}{125}{125}{50}{28}\cL{a3}{125}{152}{50}{32}\cL{a4}{172}{112}{24}{26}\cL{a5}{200}{133}{26}{26}\cG{a6}{255}{150}{48}{40}\cT{p1}{78}{98}{20}\cT{p2}{78}{123}{20}\cT{p3}{78}{153}{20}
\cL{b1}{480}{148}{48}{32}\cL{b2}{532}{167}{30}{24}\cG{b3}{594}{148}{46}{38}\cT{q1}{428}{148}{18}\cT{q2}{660}{148}{16}
\cL{c1}{482}{222}{48}{32}\cL{c2}{538}{240}{28}{24}\cG{c3}{596}{222}{48}{40}\cT{q3}{372}{222}{18}\cT{q4}{670}{222}{16}
\cY{y1}{394}{276}{10}{12}\cY{y2}{385}{292}{10}{12}\cG{d1}{436}{283}{44}{22}\cY{y3}{385}{312}{10}{12}\cY{y4}{376}{326}{10}{12}\cY{y5}{394}{330}{10}{12}\cG{d2}{427}{319}{44}{22}\cY{y6}{475}{312}{12}{12}\cL{d3}{508}{316}{40}{30}\cB{d4}{569}{285}{50}{14}\cY{y7}{611}{262}{12}{12}\cL{d5}{654}{258}{42}{22}\cG{d6}{647}{289}{28}{32}\cY{y8}{688}{275}{10}{12}\cY{y9}{665}{313}{10}{12}\cL{d7}{697}{309}{34}{24}\cL{d8}{731}{269}{34}{32}
\wI{p1}{a1}\wI{p2}{a2}\wI{p3}{a3}\wI{a1}{a4}\wI{a4}{a5}\wI{a5}{a6}\wI{a2}{a6}\wI{a3}{a6}\wI{a6}{q1}\wI{q1}{b1}\wI{b1}{b3}\wI{b2}{b3}\wI{b3}{q2}\wI{q3}{c1}\wI{c1}{c3}\wI{c2}{c3}\wI{c3}{q4}\wI{y1}{d1}\wI{y2}{d1}\wI{y3}{d2}\wI{y4}{d2}\wI{y5}{d2}\wI{d1}{d3}\wI{d2}{d3}\wI{y6}{d3}\wI{d3}{d4}\wI{d4}{y7}\wI{y7}{d5}\wI{d5}{d8}\wI{d6}{d7}\wI{y8}{d8}\wI{y9}{d7}\wI{d7}{d8}
\wD{(d8.east)(770,265)(735,250)(660,245)(d6.west)}\wD{(b2.east)(520,185)(500,170)(620,200)(c2.east)}
\fill[gray!70] (165,71) rectangle (185,74);\fill[gray!70] (548,118) rectangle (565,121);
\flushw
\end{scope}
% (j)
\begin{scope}[shift={(800,20)},zm,name prefix=j-]
\pnl{441}{95}{840}{398}\pnl{900}{260}{945}{303}\pnl{972}{265}{1200}{297}
\cG{a1}{547}{116}{68}{30}\cG{a2}{550}{157}{68}{30}\cG{a3}{553}{198}{68}{30}\cG{a4}{550}{248}{68}{30}\cG{a5}{550}{286}{68}{30}\cG{a6}{552}{326}{68}{30}
\cY{b1}{639}{117}{14}{12}\cT{b2}{680}{108}{50}\cB{b3}{657}{126}{44}{7}\cB{b4}{663}{136}{70}{7}\cG{b5}{738}{116}{44}{36}\cG{b6}{727}{168}{38}{16}
\cT{p1}{452}{105}{16}\cT{p2}{467}{146}{16}\cT{p3}{477}{187}{16}\cT{p4}{647}{147}{16}\cT{p5}{647}{159}{16}\cT{p6}{647}{175}{16}\cT{p7}{786}{170}{16}\cT{p8}{780}{285}{16}
\cY{c1}{685}{267}{12}{12}\cG{c2}{720}{267}{48}{18}\cG{c3}{803}{246}{58}{16}\cG{c4}{818}{283}{38}{16}\cG{c5}{741}{313}{40}{16}\cY{d1}{519}{378}{12}{14}\cT{d2}{562}{370}{44}\cG{d3}{617}{377}{46}{36}
\cL{e1}{921}{286}{32}{28}\cY{f1}{982}{284}{12}{12}\cG{f2}{1021}{284}{48}{18}\cG{f3}{1080}{280}{52}{18}\cG{f4}{1145}{280}{52}{18}\cG{f5}{1205}{280}{40}{18}
\wI{p1}{a1}\wI{p2}{a2}\wI{p3}{a3}\wI{a1}{p4}\wI{a2}{p5}\wI{a3}{p6}\wI{a2}{p4}\wI{a3}{p5}\wI{p4}{b6}\wI{p5}{b6}\wI{p6}{b6}\wI{b6}{p7}\wI{b1}{b5}\wI{b2}{b5}\wI{b3}{b5}\wI{b4}{b5}\wI{b5}{b6}\wI{c1}{c2}\wI{c2}{c3}\wI{c3}{e1}\wI{c4}{e1}\wI{p8}{c4}\wI{c5}{p8}\wI{c5}{e1}\wI{a4}{c5}\wI{a5}{c5}\wI{a6}{c5}\wI{d1}{d3}\wI{d2}{d3}\wI{d3}{c5}\wI{e1}{f2}\wI{f1}{f2}\wI{f2}{f3}\wI{f3}{f4}\wI{f4}{f5}
\wD{(p7.east)(810,180)(770,240)(c3.west)}
\fill[gray!70] (608,89) rectangle (672,92);\fill[gray!70] (904,257) rectangle (940,259);\fill[gray!70] (1068,259) rectangle (1108,262);
\flushw
\end{scope}
% long connectors from the input column
\wP{(r2.east)(100,72)(150,85)(b-y6.west)}
\wP{(r1.east)(b-y5.west)}
\wP{(r3.east)(95,82)(150,96)(b-p1.west)}\wP{(r4.east)(95,88)(150,102)(b-bar1.west)}\wP{(r5.east)(95,94)(150,108)(b-bar2.west)}\wP{(r6.east)(95,100)(150,115)(b-bar3.west)}\wP{(r7.east)(95,105)(150,122)(b-bar4.west)}\wP{(r8.east)(95,112)(150,128)(b-k4.west)}
\wP{(r10.east)(ta1.west)}\wP{(r11.east)(ta2.west)}\wP{(r12.east)(ta3.west)}\wP{(r13.east)(ta4.west)}\wP{(r20.east)(ta5.west)}\wP{(r22.east)(ta6.west)}
\wP{(da1.east)(150,158)(c-a.west)}
\wP{(da2.east)(150,175)(c-t1.west)}
\wP{(da3.east)(130,182)(c-t0.west)}
\wP{(r9.east)(100,118)(178,180)(c-t0.west)}
\wP{(r14.east)(110,150)(178,165)(250,205)(c-z.west)}
\wP{(r15.east)(100,158)(178,185)(260,230)(c-z.west)}
\wP{(tg2.east)(85,58)(103,100)(114,167)(125,207)(159,340)(165,400)(190,430)}
\wP{(190,430)(230,437)(268,437)(300,430)(d-t3.west)}
\node[pillnode,minimum width=5pt,minimum height=2pt] (m1) at (268,437) {};
\wP{(ta2.east)(120,145)(180,190)(210,300)(205,440)(225,560)(290,650)(f-tb.west)}
\wP{(ta3.east)(130,160)(190,210)(245,320)(205,470)(200,510)(295,555)(e-tb.west)}
\node[pillnode,minimum width=5pt,minimum height=2pt] (m2) at (295,555) {};
\wP{(ta4.east)(140,180)(178,225)(235,300)(220,400)(240,640)(300,790)(g-tb.west)}
\wP{(r16.east)(120,190)(178,240)(215,330)(195,600)(215,880)(230,950)(h-tb.west)}
\wP{(r17.east)(130,200)(178,215)(255,320)(250,600)(240,800)(222,1000)(260,1035)(h-t0.west)}
\wP{(r18.east)(140,205)(190,230)(275,320)(270,560)(255,800)(265,950)(h-t0.west)}
\wP{(r19.east)(150,200)(200,240)(290,320)(330,500)(300,650)(330,770)(f-t0.west)}
\wP{(r21.east)(150,205)(210,250)(300,330)(350,560)(e-t0.west)}
\wP{(r23.east)(160,215)(220,260)(310,325)(320,480)(310,530)(300,650)(350,800)(g-t0.west)}
\wP{(da3.east)(160,200)(230,270)(330,325)(345,470)(340,640)(350,700)(f-t0.west)}
\wP{(b-c6.east)(210,130)(240,180)(300,330)(d-t0.west)}
\wP{(155,330)(170,400)(240,425)(d-t0.west)}
\wP{(e-t0.west)(300,570)(200,530)(190,470)(205,420)}
\wP{(f-t0.west)(305,700)(222,640)(205,470)}
\wP{(637,143)(603,213)(508,317)(493,335)}
\wP{(362,478)(330,520)(300,580)}
\wP{(375,637)(330,680)(300,720)}
\wP{(c-g1.east)(400,145)(330,160)}
\wP{(c-i9.east)(673,219)(613,290)(560,355)}
\wP{(c-g6.east)(640,240)(613,260)(480,320)}
\wP{(c-ag.east)(600,200)(690,315)(780,355)}
% long connectors on the right
\wP{(b-e13.east)(630,75)(780,88)(j-a4.west)}
\wP{(b-e14.east)(630,85)(780,100)(j-a5.west)}
\wP{(b-f11.east)(630,98)(780,112)(j-a6.west)}
\wP{(b-e13.east)(610,85)(640,135)(622,220)(c-dt.east)}
\wP{(b-f11.east)(680,115)(700,190)(720,320)(800,480)(907,690)(970,830)(1000,950)(985,1045)(930,1085)(h-ez.east)}
\wP{(b-e14.east)(620,110)(662,150)(680,230)(722,320)(760,420)(793,520)}
\wP{(j-p2.west)(860,70)(780,95)(725,140)(702,185)(710,260)(723,323)(790,470)(880,640)}
\wP{(i-q2.east)(1130,725)(1188,660)(1120,540)(860,250)(805,130)(830,65)(j-p1.west)}
\wP{(i-q4.east)(1130,745)(1175,680)(1130,560)(880,280)(815,160)(840,100)(j-p3.west)}
\wP{(c-i5.east)(790,293)(818,294)(770,305)(720,322)}
\wP{(c-i5.east)(810,292)(818,297)}
\wP{(f-ei.east)(790,725)(i-p1.west)}\wP{(f-em.east)(790,732)(i-p2.west)}\wP{(f-em.east)(790,742)(i-p3.west)}
\wP{(f-ei.east)(800,745)(830,760)(i-y1.west)}
\wP{(i-q3.west)(890,764)(840,787)(835,830)(845,960)(850,1000)(h-el.east)}
\wP{(f-em.east)(810,760)(833,790)(833,900)(785,935)}
\wP{(g-ei.east)(845,890)(835,800)(790,748)}
\wP{(i-a6.east)(i-q1.west)}
\wP{(g-p7.east)(781,945)(800,960)(785,1005)}
\wP{(e-ei.east)(800,620)(790,640)(760,680)}
\wP{(e-el.east)(800,585)(850,625)}
\wP{(d-af.east)(800,415)(830,440)}
\wP{(660,505)(690,515)}
\wP{(600,505)(640,515)}
\wP{(h-p1.west)(650,965)(680,935)}
\wP{(e-em.east)(800,610)(780,660)(700,690)}
\wP{(670,950)(700,930)(720,920)}
\flushw
% red frames
\begin{pgfonlayer}{frames}
\draw[frm] (11,46) rectangle (50,226);
\draw[frm] (100,12) rectangle (541,133);
\draw[frm] (177,142) rectangle (790,319);
\draw[frm] (360,333) rectangle (786,504);
\draw[frm] (377,515) rectangle (793,648);
\draw[frm] (376,660) rectangle (779,792);
\draw[frm] (376,816) rectangle (781,948);
\draw[frm] (361,963) rectangle (787,1105);
\draw[frm] (801,702) rectangle (1063,821);
\draw[frm] (928,38) rectangle (1205,172);
\end{pgfonlayer}
\node[lab] (la) at (31,257) {(a)};
\node[lab] (lb) at (568,56) {(b)};
\node[lab] (lc) at (817,222) {(c)};
\node[lab] (ld) at (320,412) {(d)};
\node[lab] (le) at (327,575) {(e)};
\node[lab] (lf) at (333,723) {(f)};
\node[lab] (lg) at (341,877) {(g)};
\node[lab] (lh) at (327,1025) {(h)};
\node[lab] (li) at (925,677) {(i)};
\node[lab] (lj) at (1068,203) {(j)};
\end{tikzpicture}
\end{document}
